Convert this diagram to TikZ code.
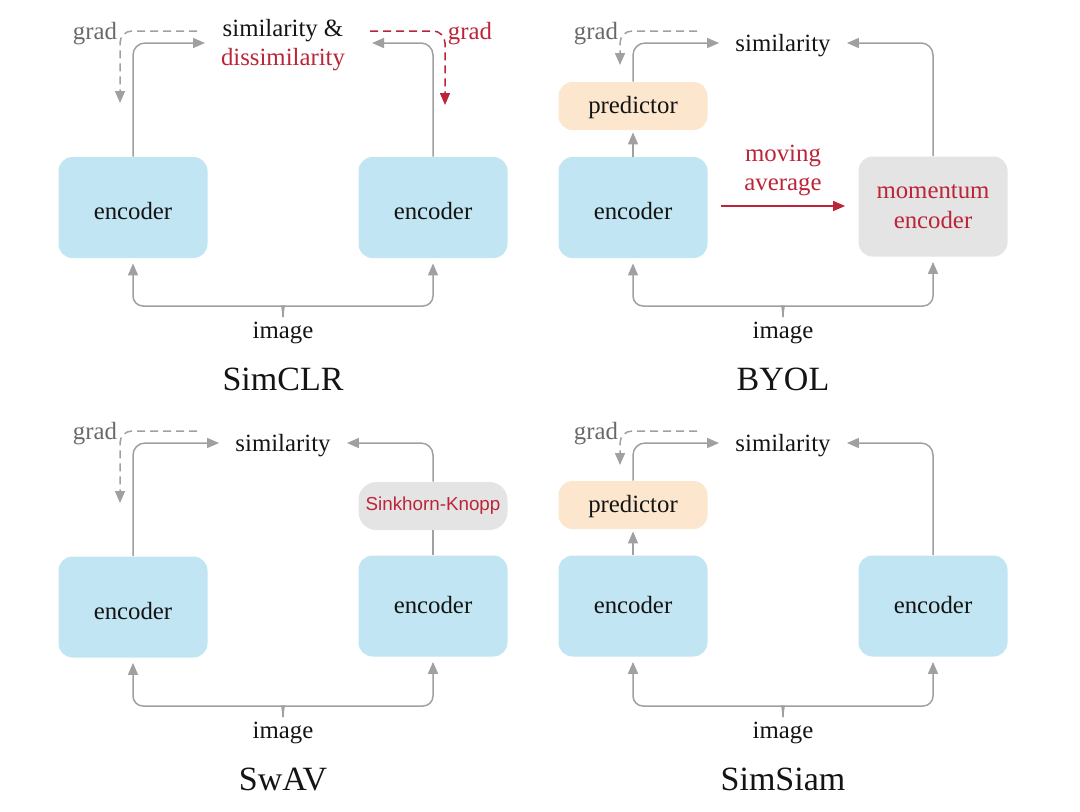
\documentclass[tikz,border=0pt]{standalone}
\usepackage{fontspec}
\setmainfont{Liberation Serif}
\newfontfamily\skfont{Liberation Sans}
\usetikzlibrary{arrows.meta}
\definecolor{encblue}{RGB}{193,229,242}
\definecolor{predor}{RGB}{252,231,206}
\definecolor{boxgray}{RGB}{228,228,228}
\definecolor{arrgray}{RGB}{160,160,160}
\definecolor{myred}{RGB}{188,36,56}
\definecolor{gradgray}{RGB}{105,105,105}
\definecolor{txt}{RGB}{20,20,20}
\begin{document}
\begin{tikzpicture}[x=0.5pt,y=-0.5pt,
  every node/.style={text=txt,font=\fontsize{12.4}{14.9}\selectfont},
  enc/.style={rectangle,rounded corners=7pt,fill=encblue,minimum width=74.5pt,minimum height=50.5pt,inner sep=0pt,text height=12pt,text depth=0pt},
  encup/.style={enc,text height=7pt},
  mom/.style={rectangle,rounded corners=7pt,fill=boxgray,minimum width=74.5pt,minimum height=50pt,inner sep=0pt,align=center,text=myred},
  pred/.style={rectangle,rounded corners=7pt,fill=predor,minimum width=74.5pt,minimum height=24pt,inner sep=0pt,text height=10.6pt,text depth=2.7pt},
  skbox/.style={rectangle,rounded corners=9pt,fill=boxgray,minimum width=74.5pt,minimum height=24pt,inner sep=0pt,text=myred,font=\skfont\fontsize{9.4}{11}\selectfont},
  lbl/.style={inner sep=4pt,align=center},
  gradlbl/.style={inner sep=0pt,text=gradgray},
  ttl/.style={font=\fontsize{17}{20}\selectfont},
  tip/.style={-{Triangle[length=6pt,width=5pt]}},
  arr/.style={draw=arrgray,line width=0.75pt,tip,rounded corners=6pt},
  gradarr/.style={arr,dash pattern=on 4pt off 2.5pt},
  redgrad/.style={gradarr,draw=myred,-{Triangle[length=6pt,width=5pt,fill=myred]}},
  redarr/.style={draw=myred,line width=0.75pt,-{Triangle[length=6pt,width=5pt]}},
  brace/.style={draw=arrgray,line width=0.75pt,rounded corners=5pt}
]
\useasboundingbox (0,0) rectangle (1080,811);

% ================= SimCLR =================
\node[enc] (e1) at (133,207.5) {encoder};
\node[enc] (e2) at (433,207.5) {encoder};
\node[lbl] (s1) at (283,45) {similarity \&\\\textcolor{myred}{dissimilarity}};
\draw[arr,shorten >=4pt] (e1.north) |- (283-70,43);
\draw[arr,shorten >=4pt] (e2.north) |- (283+81,43);
\node[gradlbl] (g1) at (95,34) {grad};
\coordinate (g1a) at (197,31);
\coordinate (g1b) at (120,103);
\draw[gradarr] (g1a) -| (g1b);
\node[gradlbl,text=myred] (g2) at (470,34) {grad};
\coordinate (g2a) at (370,31);
\coordinate (g2b) at (445,105);
\draw[redgrad] (g2a) -| (g2b);
\coordinate (bt1) at (283,317);
\draw[brace,tip,shorten >=2.5pt] (bt1) .. controls (283,309) and (281,306) .. (273,306) -- (133,306) -- (e1.south);
\draw[brace,tip,shorten >=2.5pt] (bt1) .. controls (283,309) and (285,306) .. (293,306) -- (433,306) -- (e2.south);
\node (i1) at (283,333) {image};
\node[ttl] (t1) at (283,379) {SimCLR};

% ================= BYOL =================
\node[enc] (e3) at (633,207.5) {encoder};
\node[pred] (p1) at (633,106) {predictor};
\node[mom] (m1) at (933,206.5) {momentum\\encoder};
\node[lbl] (s2) at (783,45.5) {similarity};
\draw[arr,shorten >=1pt] (e3.north) -- (p1.south);
\draw[arr,shorten >=4pt] (p1.north) |- (s2.west |- 0,43);
\draw[arr,shorten >=4pt] (m1.north) |- (s2.east |- 0,43);
\node[gradlbl] (g3) at (596,34) {grad};
\coordinate (g3a) at (697,31);
\coordinate (g3b) at (620,65);
\draw[gradarr] (g3a) -| (g3b);
\draw[redarr,shorten <=6.5pt,shorten >=6.5pt] (e3.east |- 0,206) -- (m1.west |- 0,206);
\node[lbl,text=myred] (ma) at (783,170.5) {moving\\average};
\coordinate (bt2) at (783,317);
\draw[brace,tip,shorten >=2.5pt] (bt2) .. controls (783,309) and (781,306) .. (773,306) -- (633,306) -- (e3.south);
\draw[brace,tip,shorten >=2.5pt] (bt2) .. controls (783,309) and (785,306) .. (793,306) -- (933,306) -- (m1.south);
\node (i2) at (783,333) {image};
\node[ttl] (t2) at (783,379) {BYOL};

% ================= SwAV =================
\node[enc] (e5) at (133,607) {encoder};
\node[encup] (e6) at (433,606) {encoder};
\node[skbox] (sk) at (433,506) {Sinkhorn-Knopp};
\node[lbl] (s3) at (283,445.5) {similarity};
\draw[arr,shorten >=4pt] (e5.north) |- (s3.west |- 0,443);
\draw[draw=arrgray,line width=0.75pt] (e6.north) -- (sk.south);
\draw[arr,shorten >=4pt] (sk.north) |- (s3.east |- 0,443);
\node[gradlbl] (g5) at (95,434) {grad};
\coordinate (g5a) at (197,431);
\coordinate (g5b) at (120,503);
\draw[gradarr] (g5a) -| (g5b);
\coordinate (bt3) at (283,717);
\draw[brace,tip,shorten >=2.5pt] (bt3) .. controls (283,709) and (281,706) .. (273,706) -- (133,706) -- (e5.south);
\draw[brace,tip,shorten >=2.5pt] (bt3) .. controls (283,709) and (285,706) .. (293,706) -- (433,706) -- (e6.south);
\node (i3) at (283,733) {image};
\node[ttl] (t3) at (283,779) {SwAV};

% ================= SimSiam =================
\node[encup] (e7) at (633,606) {encoder};
\node[encup] (e8) at (933,606) {encoder};
\node[pred] (p2) at (633,505) {predictor};
\node[lbl] (s4) at (783,445.5) {similarity};
\draw[arr,shorten >=1pt] (e7.north) -- (p2.south);
\draw[arr,shorten >=4pt] (p2.north) |- (s4.west |- 0,443);
\draw[arr,shorten >=4pt] (e8.north) |- (s4.east |- 0,443);
\node[gradlbl] (g7) at (596,434) {grad};
\coordinate (g7a) at (697,431);
\coordinate (g7b) at (620,465);
\draw[gradarr] (g7a) -| (g7b);
\coordinate (bt4) at (783,717);
\draw[brace,tip,shorten >=2.5pt] (bt4) .. controls (783,709) and (781,706) .. (773,706) -- (633,706) -- (e7.south);
\draw[brace,tip,shorten >=2.5pt] (bt4) .. controls (783,709) and (785,706) .. (793,706) -- (933,706) -- (e8.south);
\node (i4) at (783,733) {image};
\node[ttl] (t4) at (783,779) {SimSiam};
\end{tikzpicture}
\end{document}
